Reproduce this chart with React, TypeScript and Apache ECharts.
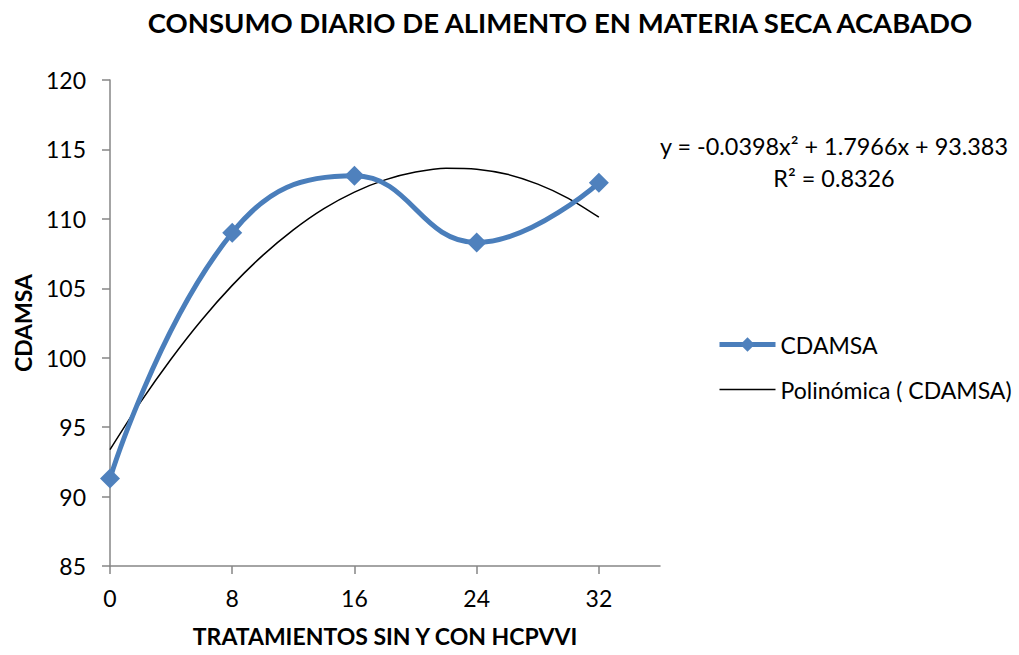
import React, { useEffect, useRef } from "react";
import * as echarts from "echarts";

const title = "CONSUMO DIARIO DE ALIMENTO EN MATERIA SECA ACABADO";
const xTicks = [0, 8, 16, 24, 32];
const treatments = [0, 8, 16, 24, 32];
const cdamsa = [91.3, 109.0, 113.1, 108.3, 112.6];
const trendX = [0, 2, 4, 6, 8, 10, 12, 14, 16, 18, 20, 22, 24, 26, 28, 30, 32];
const trendY = [93.38, 96.80, 99.91, 102.72, 105.21, 107.37, 109.21, 110.74, 111.93, 112.81, 113.37, 113.65, 113.58, 113.21, 112.50, 111.48, 110.12];
const equationText = "y = -0.0398x² + 1.7966x + 93.383";
const r2Text = "R² = 0.8326";

const FONT = "Lato";

export default function App() {
  const ref = useRef<HTMLDivElement>(null);
  useEffect(() => {
    if (!ref.current) return;
    const chart = echarts.init(ref.current, null, { renderer: "svg" });
    chart.setOption({
      animation: false,
      backgroundColor: "#ffffff",
      textStyle: { fontFamily: FONT, color: "#000" },
      title: {
        text: title,
        left: 555,
        top: 3,
        textAlign: "center",
        textStyle: { fontFamily: FONT, fontWeight: "bold", fontSize: 27.5, color: "#000" },
      },
      grid: { left: 110, top: 80, right: 359, bottom: 89, containLabel: false },
      xAxis: {
        type: "value",
        min: 0,
        max: 36,
        name: "TRATAMIENTOS SIN Y CON HCPVVI",
        nameLocation: "middle",
        nameGap: 58,
        nameTextStyle: { fontFamily: FONT, fontWeight: "bold", fontSize: 23, color: "#000" },
        splitLine: { show: false },
        axisLine: { lineStyle: { color: "#868686", width: 1.5 } },
        axisTick: { show: true, customValues: xTicks, length: 8, inside: false, lineStyle: { color: "#868686", width: 1.5 } },
        axisLabel: { customValues: xTicks, fontFamily: FONT, fontSize: 23, color: "#000", margin: 20 },
      },
      yAxis: {
        type: "value",
        min: 85,
        max: 120,
        interval: 5,
        name: "CDAMSA",
        nameLocation: "middle",
        nameGap: 76,
        nameRotate: 90,
        nameTextStyle: { fontFamily: FONT, fontWeight: "bold", fontSize: 23, color: "#000" },
        splitLine: { show: false },
        axisLine: { show: true, lineStyle: { color: "#868686", width: 1.5 } },
        axisTick: { show: true, length: 8, lineStyle: { color: "#868686", width: 1.5 } },
        axisLabel: { fontFamily: FONT, fontSize: 23, color: "#000", margin: 24 },
      },
      legend: {
        orient: "vertical",
        left: 712,
        top: 328,
        itemGap: 22,
        itemWidth: 56,
        itemHeight: 18,
        textStyle: { fontFamily: FONT, fontSize: 23, color: "#000" },
        data: [
          { name: "CDAMSA", lineStyle: { width: 5, color: "#4A7EBB" } },
          { name: "Polinómica ( CDAMSA)", itemStyle: { opacity: 0 }, lineStyle: { width: 1.5, color: "#000" } },
        ],
      },
      series: [
        {
          name: "CDAMSA",
          type: "line",
          smooth: 0.45,
          data: treatments.map((x, i) => [x, cdamsa[i]]),
          symbol: "diamond",
          symbolSize: 20,
          lineStyle: { color: "#4A7EBB", width: 5 },
          itemStyle: { color: "#4F81BD" },
          z: 3,
        },
        {
          name: "Polinómica ( CDAMSA)",
          type: "line",
          smooth: 0.3,
          data: trendX.map((x, i) => [x, trendY[i]]),
          symbol: "none",
          lineStyle: { color: "#000", width: 1.5 },
          itemStyle: { color: "#000" },
          z: 2,
        },
      ],
      graphic: [
        {
          type: "text",
          x: 834,
          y: 146,
          style: { text: equationText, fontFamily: FONT, fontSize: 23.4, fill: "#000", align: "center", verticalAlign: "middle" },
        },
        {
          type: "text",
          x: 834,
          y: 178,
          style: { text: r2Text, fontFamily: FONT, fontSize: 23.4, fill: "#000", align: "center", verticalAlign: "middle" },
        },
      ],
    });
    return () => chart.dispose();
  }, []);
  return (
    <div
      ref={ref}
      style={{ position: "fixed", left: 0, top: 0, width: 1019, height: 655 }}
    />
  );
}
